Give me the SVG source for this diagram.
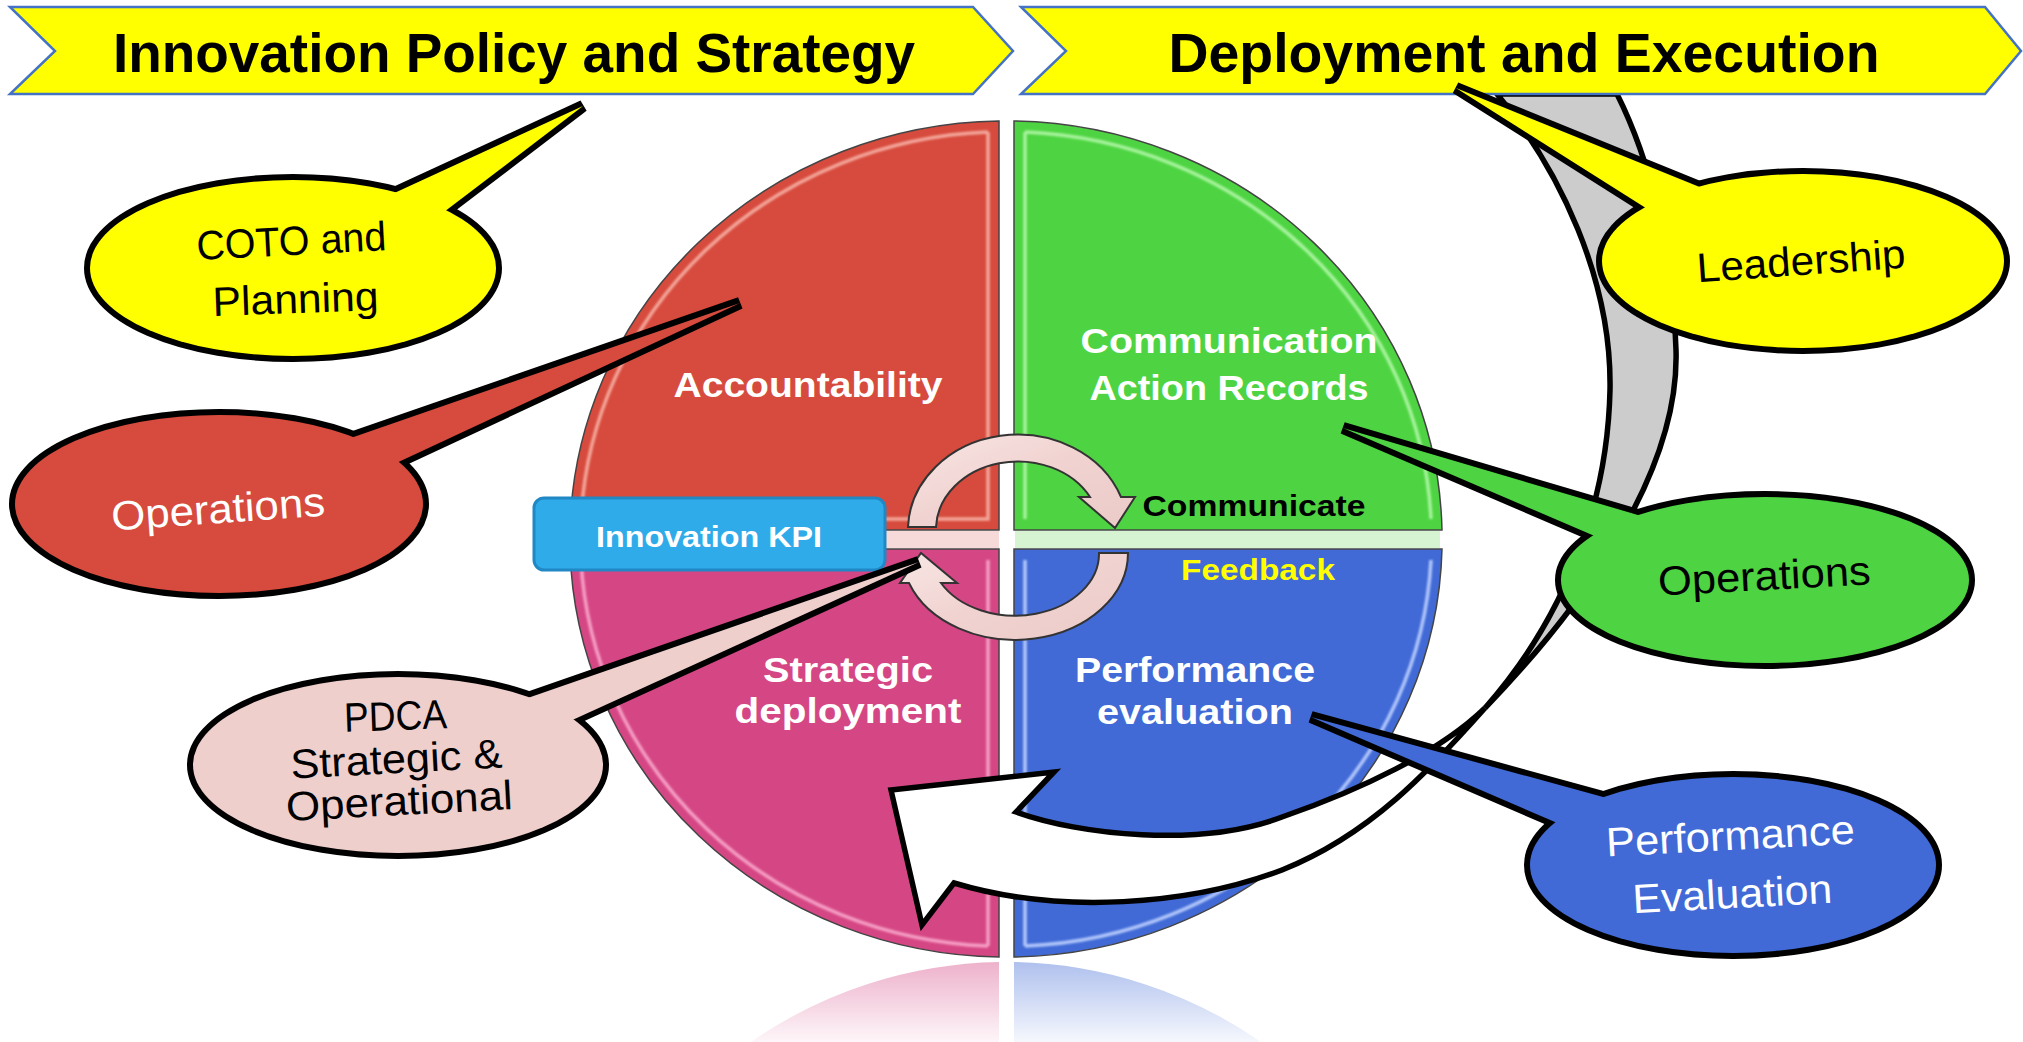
<svg xmlns="http://www.w3.org/2000/svg" width="2023" height="1042" viewBox="0 0 2023 1042">
<defs>
<style>
.title{font-family:"Liberation Sans",Arial,sans-serif;font-weight:bold;font-size:56px;fill:#000;text-anchor:middle}
.ql{font-family:"Liberation Sans",Arial,sans-serif;font-weight:bold;font-size:35px;fill:#fff;text-anchor:middle}
.sm{font-family:"Liberation Sans",Arial,sans-serif;font-weight:bold;font-size:30px;text-anchor:middle}
.ct{font-family:"Liberation Sans",Arial,sans-serif;font-size:41px;text-anchor:middle}
.banner{fill:#FFFF00;stroke:#4472C4;stroke-width:2.5}
.quad{stroke:#444;stroke-width:1.5}
.bev{fill:none;stroke-width:3.5;filter:url(#soft);opacity:.9}
.ring{fill:url(#ringG);stroke:#333;stroke-width:2;stroke-linejoin:miter}
.under{fill:#000;stroke:#000;stroke-width:12;stroke-linejoin:miter}
.edge{stroke:#000;stroke-width:5.5;stroke-linejoin:miter}
</style>
<filter id="soft" x="-5%" y="-5%" width="110%" height="110%"><feGaussianBlur stdDeviation="1.2"/></filter>
<linearGradient id="ringG" x1="0" y1="0" x2="1" y2="1">
<stop offset="0" stop-color="#F8E6E4"/><stop offset="0.5" stop-color="#F0D2D0"/><stop offset="1" stop-color="#EBCBC8"/>
</linearGradient>
<linearGradient id="refP" x1="0" y1="0" x2="0" y2="1">
<stop offset="0" stop-color="#D54784" stop-opacity="0.42"/><stop offset="1" stop-color="#D54784" stop-opacity="0.05"/>
</linearGradient>
<linearGradient id="refB" x1="0" y1="0" x2="0" y2="1">
<stop offset="0" stop-color="#416AD6" stop-opacity="0.42"/><stop offset="1" stop-color="#416AD6" stop-opacity="0.05"/>
</linearGradient>
</defs>

<rect width="2023" height="1042" fill="#fff"/>

<g id="reflection">
<path d="M999,962 L999,1042 L751,1042 A436,418 0 0 1 999,962 Z" fill="url(#refP)"/>
<path d="M1014,962 A436,418 0 0 1 1261,1042 L1014,1042 Z" fill="url(#refB)"/>
</g>

<g id="gap-tints">
<rect x="572" y="531" width="427" height="17" fill="#F6DAD9"/>
<rect x="1015" y="531" width="425" height="17" fill="#D6F4D1"/>
</g>

<g id="q-accountability">
<path class="quad" fill="#D64B3D" d="M999,121 L999,530 L570,530 A436,418 0 0 1 999,121 Z"/>
<path class="bev" stroke="#F8B0A6" d="M988,132 L988,519 L581,519 A425,407 0 0 1 988,132"/>
<text class="ql" x="808" y="397" textLength="269" lengthAdjust="spacingAndGlyphs">Accountability</text>
</g>
<g id="q-communication">
<path class="quad" fill="#4ED442" d="M1014,121 A436,418 0 0 1 1442,530 L1014,530 Z"/>
<path class="bev" stroke="#B2F7A8" d="M1025,132 A425,407 0 0 1 1431,519 M1025,132 L1025,519"/>
<text class="ql" x="1229" y="353" textLength="297" lengthAdjust="spacingAndGlyphs">Communication</text>
<text class="ql" x="1229" y="400" textLength="279" lengthAdjust="spacingAndGlyphs">Action Records</text>
</g>
<g id="q-strategic">
<path class="quad" fill="#D54784" d="M570,549 L999,549 L999,957 A436,418 0 0 1 570,549 Z"/>
<path class="bev" stroke="#F9A8CC" d="M988,560 L988,946 M581,560 A425,407 0 0 0 988,946"/>
<text class="ql" x="848" y="682" textLength="170" lengthAdjust="spacingAndGlyphs">Strategic</text>
<text class="ql" x="848" y="723" textLength="227" lengthAdjust="spacingAndGlyphs">deployment</text>
</g>
<g id="q-performance">
<path class="quad" fill="#416AD6" d="M1014,549 L1442,549 A436,418 0 0 1 1014,957 Z"/>
<path class="bev" stroke="#BFD2FF" d="M1025,560 L1025,946 M1431,560 A425,407 0 0 1 1025,946"/>
<text class="ql" x="1195" y="682" textLength="240" lengthAdjust="spacingAndGlyphs">Performance</text>
<text class="ql" x="1195" y="724" textLength="196" lengthAdjust="spacingAndGlyphs">evaluation</text>
</g>

<g id="cycle">
<path class="ring" d="M908,527 A110,96 0 0 1 1121,497 L1135,497 L1115,528 L1079,497 L1090,497 A82,68 0 0 0 936,527 Z"/>
<path class="ring" d="M1128,553 A113,87 0 0 1 909,583 L900,583 L921,553 L957,583 L941,583 A84,62 0 0 0 1099,553 Z"/>
<text class="sm" fill="#000" x="1254" y="516" textLength="223" lengthAdjust="spacingAndGlyphs">Communicate</text>
<text class="sm" fill="#FFFF00" x="1258" y="580" textLength="154" lengthAdjust="spacingAndGlyphs">Feedback</text>
</g>

<g id="kpi">
<rect x="534" y="498" width="351" height="72" rx="10" fill="#30ABE9" stroke="#2088C4" stroke-width="3"/>
<text class="sm" fill="#fff" x="709" y="547" textLength="226" lengthAdjust="spacingAndGlyphs">Innovation KPI</text>
</g>

<g id="connectors">
<path class="edge" fill="#CCCCCC" d="M1497,94 C1560,170 1612,280 1610,390 C1608,480 1580,600 1485,708 C1570,620 1680,480 1676,350 C1673,250 1650,160 1617,94 Z"/>
<path class="edge" fill="#FFFFFF" d="M891,790 L1054,772 L1016,812 C1080,835 1200,848 1282,817 C1360,790 1440,752 1485,708 C1430,770 1370,835 1282,870 C1190,905 1060,915 954,883 L922,925 Z"/>
</g>

<g id="banner-policy">
<polygon class="banner" points="10,7 973,7 1013,51 973,94 10,94 55,51"/>
<text class="title" x="514" y="72" textLength="802" lengthAdjust="spacingAndGlyphs">Innovation Policy and Strategy</text>
</g>
<g id="banner-deployment">
<polygon class="banner" points="1021,7 1985,7 2021,51 1985,94 1021,94 1066,51"/>
<text class="title" x="1524" y="72" textLength="711" lengthAdjust="spacingAndGlyphs">Deployment and Execution</text>
</g>

<g id="callout-coto">
<g class="under"><ellipse cx="293" cy="268" rx="203" ry="88"/><polygon points="390,195 583,106 440,215"/></g>
<g fill="#FFFF00"><ellipse cx="293" cy="268" rx="203" ry="88"/><polygon points="390,195 583,106 440,215"/></g>
<text class="ct" fill="#000" x="292" y="255" transform="rotate(-3 292 255)" textLength="190" lengthAdjust="spacingAndGlyphs">COTO and</text>
<text class="ct" fill="#000" x="296" y="313" transform="rotate(-2 296 313)" textLength="166" lengthAdjust="spacingAndGlyphs">Planning</text>
</g>

<g id="callout-operations-red">
<g class="under"><ellipse cx="219" cy="504" rx="204" ry="89"/><polygon points="345,440 740,303 392,465"/></g>
<g fill="#D64B3D"><ellipse cx="219" cy="504" rx="204" ry="89"/><polygon points="345,440 740,303 392,465"/></g>
<text class="ct" fill="#fff" x="219" y="523" transform="rotate(-4 219 523)" textLength="214" lengthAdjust="spacingAndGlyphs">Operations</text>
</g>

<g id="callout-pdca">
<g class="under"><ellipse cx="398" cy="765" rx="205" ry="88"/><polygon points="522,700 919,562 568,722"/></g>
<g fill="#EFCFCC"><ellipse cx="398" cy="765" rx="205" ry="88"/><polygon points="522,700 919,562 568,722"/></g>
<text class="ct" fill="#000" x="396" y="730" transform="rotate(-2 396 730)" textLength="103" lengthAdjust="spacingAndGlyphs">PDCA</text>
<text class="ct" fill="#000" x="397" y="773" transform="rotate(-3 397 773)" textLength="212" lengthAdjust="spacingAndGlyphs">Strategic &amp;</text>
<text class="ct" fill="#000" x="400" y="815" transform="rotate(-3 400 815)" textLength="227" lengthAdjust="spacingAndGlyphs">Operational</text>
</g>

<g id="callout-leadership">
<g class="under"><ellipse cx="1803" cy="261" rx="201" ry="87"/><polygon points="1649,210 1456,88 1707,190"/></g>
<g fill="#FFFF00"><ellipse cx="1803" cy="261" rx="201" ry="87"/><polygon points="1649,210 1456,88 1707,190"/></g>
<text class="ct" fill="#000" x="1802" y="275" transform="rotate(-4 1802 275)" textLength="209" lengthAdjust="spacingAndGlyphs">Leadership</text>
</g>

<g id="callout-operations-green">
<g class="under"><ellipse cx="1765" cy="580" rx="204" ry="83"/><polygon points="1648,518 1343,428 1597,537"/></g>
<g fill="#4ED442"><ellipse cx="1765" cy="580" rx="204" ry="83"/><polygon points="1648,518 1343,428 1597,537"/></g>
<text class="ct" fill="#000" x="1765" y="590" transform="rotate(-3 1765 590)" textLength="213" lengthAdjust="spacingAndGlyphs">Operations</text>
</g>

<g id="callout-performance">
<g class="under"><ellipse cx="1733" cy="865" rx="203" ry="88"/><polygon points="1614,800 1311,717 1562,825"/></g>
<g fill="#416AD6"><ellipse cx="1733" cy="865" rx="203" ry="88"/><polygon points="1614,800 1311,717 1562,825"/></g>
<text class="ct" fill="#fff" x="1731" y="850" transform="rotate(-3 1731 850)" textLength="249" lengthAdjust="spacingAndGlyphs">Performance</text>
<text class="ct" fill="#fff" x="1733" y="908" transform="rotate(-3 1733 908)" textLength="200" lengthAdjust="spacingAndGlyphs">Evaluation</text>
</g>
</svg>
